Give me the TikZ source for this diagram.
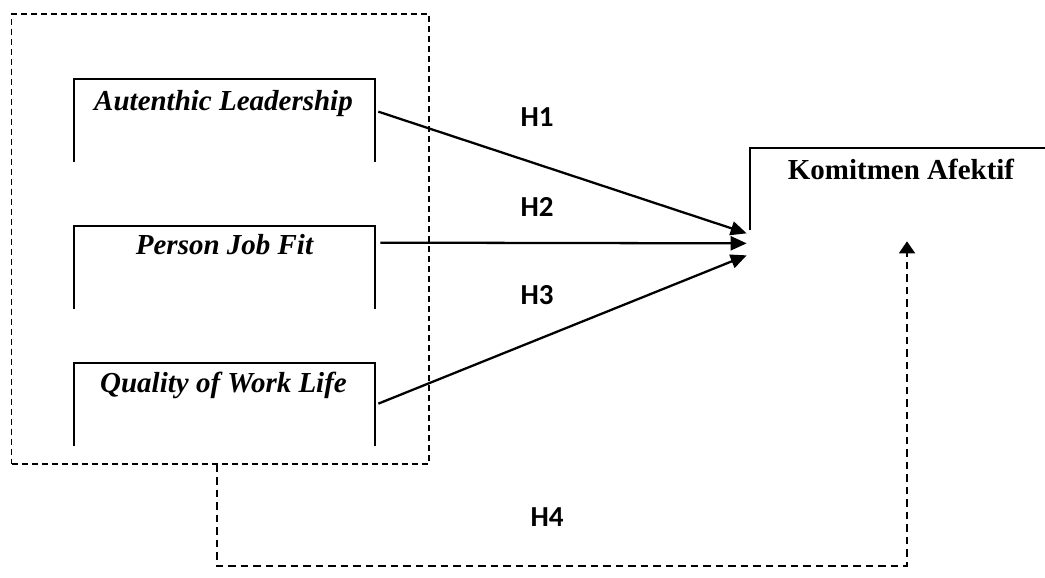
\documentclass[tikz,border=0pt]{standalone}
\usepackage{fontspec}
\setmainfont{Liberation Serif}
\newfontfamily\hypfont{Carlito}
\usetikzlibrary{positioning,arrows.meta}
\tikzset{
  varbox/.style   = {minimum width=6.02cm, minimum height=1.66cm, inner sep=0pt},
  vartext/.style  = {anchor=base, inner sep=0pt, font=\fontsize{16.5}{20}\selectfont\bfseries\itshape},
  depbox/.style   = {minimum width=6.2cm, minimum height=1.64cm, inner sep=0pt},
  deptext/.style  = {anchor=base, inner sep=0pt, font=\fontsize{16.5}{20}\selectfont\bfseries},
  side/.style     = {line width=1.3pt},
  group/.style    = {draw, dash pattern=on 0.12cm off 0.08cm, line width=0.9pt,
                     minimum width=8.35cm, minimum height=9cm, inner sep=0pt},
  hyp/.style      = {font=\fontsize{16.5}{19}\selectfont\hypfont\bfseries},
  arrow/.style    = {-{Triangle[length=0.32cm,width=0.28cm]}, line width=1.3pt},
  dashedarrow/.style = {-{Triangle[length=0.24cm,width=0.32cm]}, line width=1.1pt,
                     dash pattern=on 0.15cm off 0.1cm},
}
\begin{document}
\begin{tikzpicture}[x=0.02cm, y=-0.02cm]
  \useasboundingbox (0,0) rectangle (1045,578);
  % independent variables
  \node[group] (grp) at (220.4,239) {};
  \node[varbox] (al)  at (224.5,120.5) {};
  \node[varbox] (pjf) at (224.5,267.5) {};
  \node[varbox] (qwl) at (224.5,404.5) {};
  \node[vartext] (alt)  at ([shift={(-1,32)}]al.north)  {Autenthic Leadership};
  \node[vartext] (pjft) at ([shift={(0,29)}]pjf.north)  {Person Job Fit};
  \node[vartext] (qwlt) at ([shift={(-1,30)}]qwl.north) {Quality of Work Life};
  \foreach \n in {al,pjf,qwl}
    \draw[side] (\n.south west) |- (\n.north east) -- (\n.south east);
  % dependent variable
  \node[depbox] (ka) at (905,189) {};
  \node[deptext] (kat) at ([shift={(-4,32)}]ka.north) {Komitmen Afektif};
  \draw[side] (ka.south west) |- (ka.north east);
  % hypotheses
  \draw[arrow] ([shift={(3,33)}]al.north east)  -- ([shift={(-3,3)}]ka.south west);
  \draw[arrow] ([shift={(5,17)}]pjf.north east) -- ([shift={(-3,13)}]ka.south west);
  \draw[arrow] ([shift={(3,41)}]qwl.north east) -- ([shift={(-3,25)}]ka.south west);
  \node[hyp] (h1) at (537,117) {H1};
  \node[hyp] (h2) at (537,207) {H2};
  \node[hyp] (h3) at (537,295) {H3};
  \node[hyp] (h4) at (547,517) {H4};
  \draw[dashedarrow] ([shift={(-3.4,0)}]grp.south) -- ++(0,101)
    -| ([shift={(2,11)}]ka.south);
\end{tikzpicture}
\end{document}
